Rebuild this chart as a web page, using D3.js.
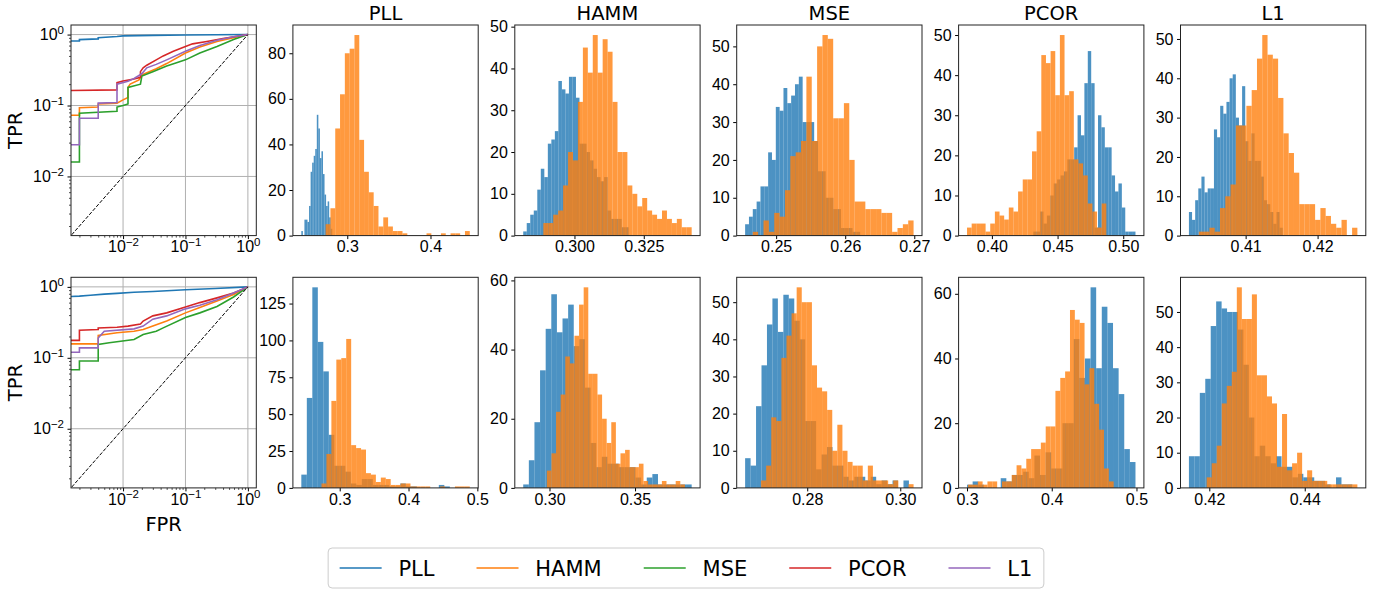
<!DOCTYPE html>
<html>
<meta charset="utf-8">
<head>
<style>
body { margin: 0; background: #fff; }
svg { font-family: "DejaVu Sans", sans-serif; }
.tick text { font-size: 16px; fill: #000; }
.tick line { stroke: #000; stroke-width: 1; }
.minor line { stroke: #000; stroke-width: 0.7; }
.frame { fill: none; stroke: #222; stroke-width: 1; }
.grid { stroke: #b0b0b0; stroke-width: 1; }
.title { font-size: 19.5px; text-anchor: middle; }
.label { font-size: 19.5px; text-anchor: middle; }
</style>
</head>
<body>
<script src="https://d3js.org/d3.v7.min.js"></script>
<script>

// ---- data ----
var metrics = ["PLL", "HAMM", "MSE", "PCOR", "L1"];

// histogram sample ranges [min, max] and bin counts, top row
var topBlueRange = [[0.2448, 0.2820], [0.28152, 0.31957], [0.24551, 0.26217], [0.43152, 0.50932], [0.40212, 0.41516]];
var topOrangeRange = [[0.2740, 0.4472], [0.28877, 0.34228], [0.24662, 0.2699], [0.38106, 0.48712], [0.4035, 0.42553]];
var topBlueCounts = [
  [2,0,7,7,6,13,28,32,35,38,53,47,34,37,27,18,13,15,8,3],
  [1,3,5,6,11,16,14,22,23,25,37,35,34,38,38,33,22,22,20,18,16,14,13,14,6,4,4,4,2,2],
  [3,5,7,9,13,13,22,20,34,33,39,35,37,40,42,30,30,30,25,17,17,10,10,7,7,2,2,2,1,1],
  [1,1,6,3,5,10,13,14,15,16,19,19,22,30,25,38,46,38,2,30,27,22,22,15,11,13,7,1,1,1],
  [6,4,9,12,15,11,12,12,27,25,33,31,34,40,41,30,28,38,24,19,26,19,19,15,9,8,6,3,6,2]
];
var topOrangeCounts = [
  [5,12,47,62,80,82,88,42,28,19,13,4,8,4,2,2,1,0,0,0,0,1,0,0,1,0,1,1,0,2],
  [3,3,5,6,12,20,18,32,45,39,48,39,47,44,32,20,20,12,10,7,9,6,5,4,6,4,3,4,2,2],
  [1,0,4,1,6,5,12,21,22,25,42,25,50,53,52,31,31,35,20,9,9,7,7,7,6,6,1,2,3,4],
  [2,3,3,3,1,3,6,5,4,7,6,11,14,14,21,26,45,43,46,35,50,35,36,19,18,15,8,6,2,8],
  [1,1,2,1,7,10,13,28,28,33,37,45,51,46,45,35,26,21,16,8,8,8,4,7,5,3,2,4,0,2]
];

// bottom row
var botBlueRange = [[0.24422, 0.46], [0.28464, 0.38311], [0.26665, 0.30186], [0.30, 0.49882], [0.41573, 0.44998]];
var botOrangeRange = [[0.27355, 0.489], [0.29846, 0.37915], [0.27008, 0.30286], [0.30119, 0.47309], [0.41945, 0.45103]];
var botBlueCounts = [
  [9,61,136,99,79,36,15,15,11,3,2,6,6,2,2,2,1,1,3,1,1,0,0,0,0,2,1],
  [1,8,19,34,46,56,45,49,53,41,43,29,13,6,9,7,7,6,6,6,3,1,3,4,1,1,1,1,1,1],
  [8,6,22,33,44,51,42,52,51,45,40,18,18,5,9,11,6,6,3,2,3,3,2,3,1,2,1,2,0,2],
  [1,2,1,0,0,0,3,2,4,4,5,3,10,4,11,6,6,20,20,46,34,40,62,37,56,51,37,29,12,8],
  [9,9,27,31,46,53,51,50,50,45,35,20,9,12,9,7,9,6,6,3,4,3,3,2,2,1,0,3,1,1]
];
var botOrangeCounts = [
  [3,23,59,87,88,101,29,27,26,10,9,4,7,6,2,2,3,3,1,1,1,1,0,0,1,0,0,1,1,1],
  [5,10,22,27,38,36,44,53,58,33,33,27,20,13,19,7,10,11,6,6,7,2,1,1,1,2,1,1,2,1],
  [2,6,19,18,35,41,47,54,50,50,33,27,26,21,10,17,10,7,6,6,2,6,2,2,2,1,2,0,0,1],
  [1,1,2,1,2,2,0,2,2,4,7,6,9,12,12,14,19,19,30,34,36,55,52,51,32,37,26,18,6,2],
  [3,7,12,24,29,33,57,48,48,55,32,32,26,24,6,21,5,7,10,2,5,2,2,2,1,1,1,1,1,1]
];

// tick labels
var topXTicks = [["0.3","0.4"], ["0.300","0.325"], ["0.25","0.26","0.27"], ["0.40","0.45","0.50"], ["0.41","0.42"]];
var topYTicks = [[0,20,40,60,80], [0,10,20,30,40,50], [0,10,20,30,40,50], [0,10,20,30,40,50], [0,10,20,30,40,50]];
var botXTicks = [["0.3","0.4","0.5"], ["0.30","0.35"], ["0.28","0.30"], ["0.3","0.4","0.5"], ["0.42","0.44"]];
var botYTicks = [[0,25,50,75,100,125], [0,20,40,60], [0,10,20,30,40,50], [0,20,40,60], [0,10,20,30,40,50]];
var rocTicks = [0.01, 0.1, 1];
var rocTickExp = ["\u22122", "\u22121", "0"];
var rocYTicks = [0.01, 0.1, 1];
var rocYTickExp = ["\u22122", "\u22121", "0"];
var rocMinFpr = 0.002;

// ROC curves [fpr, tpr], one per metric
var topRoc = [
  [[0.001,0.81],[0.002,0.81],[0.002,0.85],[0.004,0.87],[0.004,0.9],[0.008,0.94],[0.01,0.96],[0.03,0.975],[0.1,0.985],[0.3,0.993],[1,1]],
  [[0.001,0.073],[0.002,0.073],[0.002,0.093],[0.004,0.095],[0.004,0.105],[0.008,0.108],[0.01,0.12],[0.012,0.13],[0.012,0.18],[0.013,0.2],[0.018,0.23],[0.02,0.27],[0.034,0.33],[0.05,0.39],[0.1,0.55],[0.17,0.67],[0.32,0.8],[0.59,0.9],[1,1]],
  [[0.001,0.016],[0.002,0.016],[0.002,0.078],[0.008,0.083],[0.008,0.095],[0.01,0.1],[0.012,0.105],[0.012,0.18],[0.019,0.2],[0.02,0.26],[0.03,0.3],[0.05,0.36],[0.072,0.4],[0.1,0.44],[0.17,0.55],[0.32,0.68],[0.59,0.85],[1,1]],
  [[0.001,0.162],[0.008,0.166],[0.008,0.21],[0.01,0.222],[0.015,0.236],[0.019,0.25],[0.019,0.3],[0.021,0.34],[0.024,0.37],[0.034,0.44],[0.044,0.5],[0.064,0.58],[0.1,0.68],[0.13,0.74],[0.22,0.8],[0.4,0.88],[0.6,0.93],[1,1]],
  [[0.001,0.028],[0.002,0.028],[0.002,0.066],[0.004,0.066],[0.004,0.108],[0.008,0.11],[0.008,0.2],[0.012,0.22],[0.015,0.24],[0.02,0.28],[0.024,0.34],[0.034,0.38],[0.05,0.44],[0.1,0.58],[0.17,0.7],[0.32,0.83],[0.59,0.93],[1,1]]
];
var botRoc = [
  [[0.001,0.72],[0.002,0.74],[0.003,0.76],[0.005,0.79],[0.008,0.81],[0.015,0.84],[0.03,0.86],[0.06,0.89],[0.1,0.91],[0.3,0.95],[1,1]],
  [[0.001,0.157],[0.004,0.157],[0.004,0.206],[0.008,0.225],[0.015,0.237],[0.021,0.25],[0.03,0.28],[0.05,0.33],[0.1,0.43],[0.17,0.51],[0.32,0.63],[0.59,0.78],[1,1]],
  [[0.001,0.068],[0.002,0.068],[0.002,0.09],[0.004,0.09],[0.004,0.154],[0.006,0.163],[0.015,0.181],[0.021,0.213],[0.034,0.237],[0.044,0.264],[0.1,0.37],[0.17,0.43],[0.32,0.53],[0.59,0.72],[1,1]],
  [[0.001,0.176],[0.002,0.176],[0.002,0.245],[0.004,0.25],[0.004,0.264],[0.008,0.27],[0.012,0.28],[0.019,0.3],[0.021,0.33],[0.03,0.39],[0.05,0.43],[0.1,0.52],[0.17,0.6],[0.32,0.7],[0.59,0.82],[1,1]],
  [[0.001,0.12],[0.002,0.12],[0.002,0.138],[0.004,0.138],[0.004,0.19],[0.005,0.237],[0.015,0.256],[0.021,0.28],[0.03,0.35],[0.05,0.39],[0.1,0.49],[0.17,0.55],[0.32,0.66],[0.59,0.82],[1,1]]
];

// ---- layout ----
var lineColors = ["#1f77b4", "#ff7f0e", "#2ca02c", "#d62728", "#9467bd"];
var W = 185.3, H = 210.6;
var rowTop = [25, 277.3];
function colLeft(i) { return 71 + i * 221.9; }

var svg = d3.select("body").append("svg")
    .attr("width", 1381)
    .attr("height", 589);
var defs = svg.append("defs");

function histPanel(left, top, title, blue, blueRange, orange, orangeRange, xTicks, yTicks) {
  var g = svg.append("g");
  var lo = Math.min(blueRange[0], orangeRange[0]),
      hi = Math.max(blueRange[1], orangeRange[1]),
      pad = (hi - lo) * 0.05;
  var x = d3.scaleLinear().domain([lo - pad, hi + pad]).range([left, left + W]);
  var ymax = d3.max(blue.concat(orange)) * 1.05;
  var y = d3.scaleLinear().domain([0, ymax]).range([top + H, top]);

  // blue first, orange drawn over it
  [[blue, blueRange, "#1f77b4"], [orange, orangeRange, "#ff7f0e"]].forEach(function(s) {
    var bin = d3.scaleLinear().domain([0, s[0].length]).range(s[1]);
    var bins = s[0].map(function(c, i) { return {c: c, i: i}; }).filter(function(d) { return d.c > 0; });
    g.append("g").selectAll("rect")
      .data(bins).enter()
      .append("rect")
      .attr("x", function(d) { return x(bin(d.i)); })
      .attr("width", function(d) { return x(bin(d.i + 1)) - x(bin(d.i)); })
      .attr("y", function(d) { return y(d.c); })
      .attr("height", function(d) { return y(0) - y(d.c); })
      .attr("fill", s[2])
      .attr("fill-opacity", 0.8);
  });

  var xa = g.append("g")
      .attr("transform", "translate(0," + (top + H) + ")")
      .call(d3.axisBottom(x).tickValues(xTicks.map(Number))
        .tickFormat(function(d, i) { return xTicks[i]; })
        .tickSize(3.5).tickPadding(2));
  xa.select(".domain").remove();
  var ya = g.append("g")
      .attr("transform", "translate(" + left + ",0)")
      .call(d3.axisLeft(y).tickValues(yTicks).tickSize(3.5).tickPadding(3.5));
  ya.select(".domain").remove();

  g.append("rect").attr("class", "frame")
    .attr("x", left).attr("y", top).attr("width", W).attr("height", H);
  if (title) {
    g.append("text").attr("class", "title")
      .attr("x", left + W / 2).attr("y", top - 5)
      .text(title);
  }
}

function supLabels(axisG, exps) {
  axisG.selectAll(".tick text").each(function(d, i) {
    var t = d3.select(this);
    t.text("10");
    t.append("tspan").attr("dy", "-0.55em").style("font-size", "11.5px").text(exps[i]);
  });
}

function rocPanel(r, left, top, curves, showX) {
  var g = svg.append("g");
  var lg = Math.log10(rocMinFpr);
  var dom = [Math.pow(10, lg * 1.05), Math.pow(10, -lg * 0.05)];
  var x = d3.scaleLog().domain(dom).range([left, left + W]);
  var y = d3.scaleLog().domain(dom).range([top + H, top]);

  // grid
  g.append("g").selectAll("line").data(rocTicks).enter().append("line")
    .attr("class", "grid")
    .attr("x1", function(d) { return x(d); }).attr("x2", function(d) { return x(d); })
    .attr("y1", top).attr("y2", top + H);
  g.append("g").selectAll("line").data(rocYTicks).enter().append("line")
    .attr("class", "grid")
    .attr("y1", function(d) { return y(d); }).attr("y2", function(d) { return y(d); })
    .attr("x1", left).attr("x2", left + W);

  var clipId = "roc" + r;
  defs.append("clipPath").attr("id", clipId).append("rect")
    .attr("x", left).attr("y", top).attr("width", W).attr("height", H);
  var plot = g.append("g").attr("clip-path", "url(#" + clipId + ")");

  var line = d3.line().x(function(d) { return x(d[0]); }).y(function(d) { return y(d[1]); });
  curves.forEach(function(c, i) {
    plot.append("path").attr("d", line(c))
      .attr("fill", "none").attr("stroke", lineColors[i]).attr("stroke-width", 1.6);
  });
  plot.append("path").attr("d", line([[1e-4, 1e-4], [1, 1]]))
    .attr("fill", "none").attr("stroke", "#000").attr("stroke-width", 1)
    .attr("stroke-dasharray", "3.7,1.6");

  // minor ticks
  var minors = [];
  for (var e = -3; e <= 0; e++) {
    for (var k = 2; k <= 9; k++) {
      var v = k * Math.pow(10, e);
      if (v > dom[0] && v < dom[1]) minors.push(v);
    }
  }
  var mx = g.append("g").attr("class", "minor")
    .attr("transform", "translate(0," + (top + H) + ")")
    .call(d3.axisBottom(x).tickValues(minors).tickFormat("").tickSize(2));
  mx.select(".domain").remove();
  var my = g.append("g").attr("class", "minor")
    .attr("transform", "translate(" + left + ",0)")
    .call(d3.axisLeft(y).tickValues(minors).tickFormat("").tickSize(2));
  my.select(".domain").remove();

  var xa = g.append("g")
      .attr("transform", "translate(0," + (top + H) + ")")
      .call(d3.axisBottom(x).tickValues(rocTicks).tickSize(3.5).tickPadding(2));
  xa.select(".domain").remove();
  supLabels(xa, rocTickExp);
  var ya = g.append("g")
      .attr("transform", "translate(" + left + ",0)")
      .call(d3.axisLeft(y).tickValues(rocYTicks).tickSize(3.5).tickPadding(3.5));
  ya.select(".domain").remove();
  supLabels(ya, rocYTickExp);

  g.append("rect").attr("class", "frame")
    .attr("x", left).attr("y", top).attr("width", W).attr("height", H);

  g.append("text").attr("class", "label")
    .attr("transform", "translate(22," + (top + H / 2) + ") rotate(-90)")
    .text("TPR");
  if (showX) {
    g.append("text").attr("class", "label")
      .attr("x", left + W / 2).attr("y", top + H + 43)
      .text("FPR");
  }
}

rocPanel(0, colLeft(0), rowTop[0], topRoc, false);
rocPanel(1, colLeft(0), rowTop[1], botRoc, true);

metrics.forEach(function(m, i) {
  histPanel(colLeft(i + 1), rowTop[0], m, topBlueCounts[i], topBlueRange[i],
            topOrangeCounts[i], topOrangeRange[i], topXTicks[i], topYTicks[i]);
  histPanel(colLeft(i + 1), rowTop[1], null, botBlueCounts[i], botBlueRange[i],
            botOrangeCounts[i], botOrangeRange[i], botXTicks[i], botYTicks[i]);
});

// ---- legend ----
var fs = 21, legPad = 11.5, handle = 2 * fs, textPad = 0.8 * fs, colSpace = 2 * fs;
var legCx = 686, legTop = 548, legH = 40, legCy = legTop + legH / 2;
var legend = svg.append("g");
var box = legend.append("rect");
var items = legend.selectAll("g.item").data(metrics).enter().append("g").attr("class", "item");
items.append("line")
  .attr("stroke", function(d, i) { return lineColors[i]; })
  .attr("stroke-width", 1.5);
items.append("text")
  .style("font-size", fs + "px")
  .attr("dy", "0.36em")
  .text(function(d) { return d; });

var widths = [];
items.select("text").each(function() { widths.push(this.getComputedTextLength()); });
var total = 2 * legPad + d3.sum(widths) + metrics.length * (handle + textPad) + colSpace * (metrics.length - 1);
var cx = legCx - total / 2 + legPad;
items.each(function(d, i) {
  var it = d3.select(this);
  it.select("line").attr("x1", cx).attr("x2", cx + handle).attr("y1", legCy).attr("y2", legCy);
  it.select("text").attr("x", cx + handle + textPad).attr("y", legCy);
  cx += handle + textPad + widths[i] + colSpace;
});
box.attr("x", legCx - total / 2).attr("y", legTop)
  .attr("width", total).attr("height", legH)
  .attr("rx", 4).attr("ry", 4)
  .attr("fill", "#fff").attr("fill-opacity", 0.8)
  .attr("stroke", "#cccccc").attr("stroke-width", 1);

</script>
</body>
</html>
